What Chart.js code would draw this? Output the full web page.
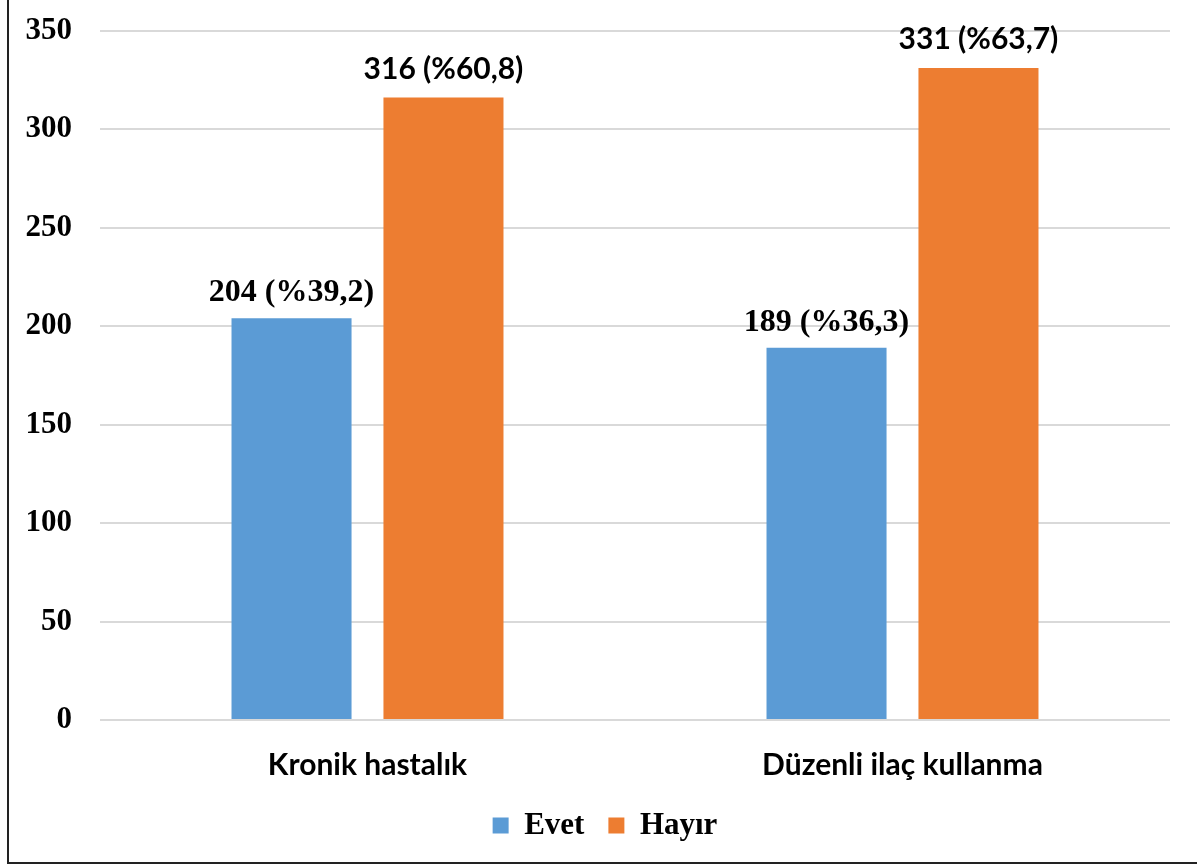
<!DOCTYPE html>
<html>
<head>
<meta charset="utf-8">
<script src="https://cdn.jsdelivr.net/npm/chart.js@4/dist/chart.umd.min.js"></script>
<style>
  html, body { margin: 0; padding: 0; background: #fff; overflow: hidden; }
  #frame {
    position: absolute; left: 7px; top: -10px; width: 1200px; height: 872px;
    border-left: 2px solid #222; border-bottom: 2px solid #222;
  }
  #wrap { position: absolute; left: 0; top: -16px; width: 1197px; height: 881px; }
</style>
</head>
<body>
<div id="frame"></div>
<div id="wrap"><canvas id="chart"></canvas></div>
<script>
const categories = ["Kronik hastalık", "Düzenli ilaç kullanma"];
const evetValues = [204, 189];
const hayirValues = [316, 331];
const evetLabels = ["204 (%39,2)", "189 (%36,3)"];
const hayirLabels = ["316 (%60,8)", "331 (%63,7)"];
const yTicks = [0, 50, 100, 150, 200, 250, 300, 350];

const serif = "'Liberation Serif', 'Times New Roman', serif";
const sans = "Lato, 'Open Sans', sans-serif";

// draws the value labels above each bar
const barLabels = {
  id: "barLabels",
  afterDatasetsDraw(chart) {
    const ctx = chart.ctx;
    chart.data.datasets.forEach((ds, i) => {
      const meta = chart.getDatasetMeta(i);
      meta.data.forEach((bar, j) => {
        ctx.save();
        ctx.fillStyle = "#000";
        ctx.textAlign = "center";
        ctx.textBaseline = "alphabetic";
        ctx.font = ds.labelFont;
        ctx.fillText(ds.valueLabels[j], bar.x, bar.y - ds.labelGap);
        ctx.restore();
      });
    });
  }
};

// nudge the legend a little to the right, like the original
const legendShift = {
  id: "legendShift",
  afterLayout(chart) {
    chart.legend.left += 20;
    chart.legend.right += 20;
  }
};

const ctx = document.getElementById("chart").getContext("2d");
new Chart(ctx, {
  type: "bar",
  data: {
    labels: categories,
    datasets: [
      {
        label: "Evet",
        data: evetValues,
        backgroundColor: "#5B9BD5",
        valueLabels: evetLabels,
        labelFont: "bold 32px " + serif,
        labelGap: 17
      },
      {
        label: "Hayır",
        data: hayirValues,
        backgroundColor: "#ED7D31",
        valueLabels: hayirLabels,
        labelFont: "bold 30px " + sans,
        labelGap: 19
      }
    ]
  },
  options: {
    responsive: true,
    maintainAspectRatio: false,
    animation: false,
    layout: { padding: { top: 0, right: 27, left: 0, bottom: 14 } },
    datasets: {
      bar: { categoryPercentage: 0.568, barPercentage: 0.79 }
    },
    scales: {
      y: {
        min: 0,
        max: 350,
        afterBuildTicks: axis => {
          axis.ticks = yTicks.map(v => ({ value: v }));
        },
        afterFit: axis => {
          axis.width = 100;
        },
        grid: { color: "#d9d9d9", lineWidth: 2, drawTicks: false },
        border: { display: false },
        ticks: {
          padding: 28,
          color: "#000",
          font: { family: serif, weight: "bold", size: 31 }
        }
      },
      x: {
        afterFit: axis => {
          axis.height = 66;
        },
        grid: { display: false },
        border: { display: false },
        ticks: {
          padding: 19,
          color: "#000",
          font: { family: sans, weight: "bold", size: 30 }
        }
      }
    },
    plugins: {
      tooltip: { enabled: false },
      legend: {
        position: "bottom",
        labels: {
          boxWidth: 16,
          boxHeight: 16,
          padding: 24,
          color: "#000",
          font: { family: serif, weight: "bold", size: 31 }
        }
      }
    }
  },
  plugins: [barLabels, legendShift]
});
</script>
</body>
</html>
